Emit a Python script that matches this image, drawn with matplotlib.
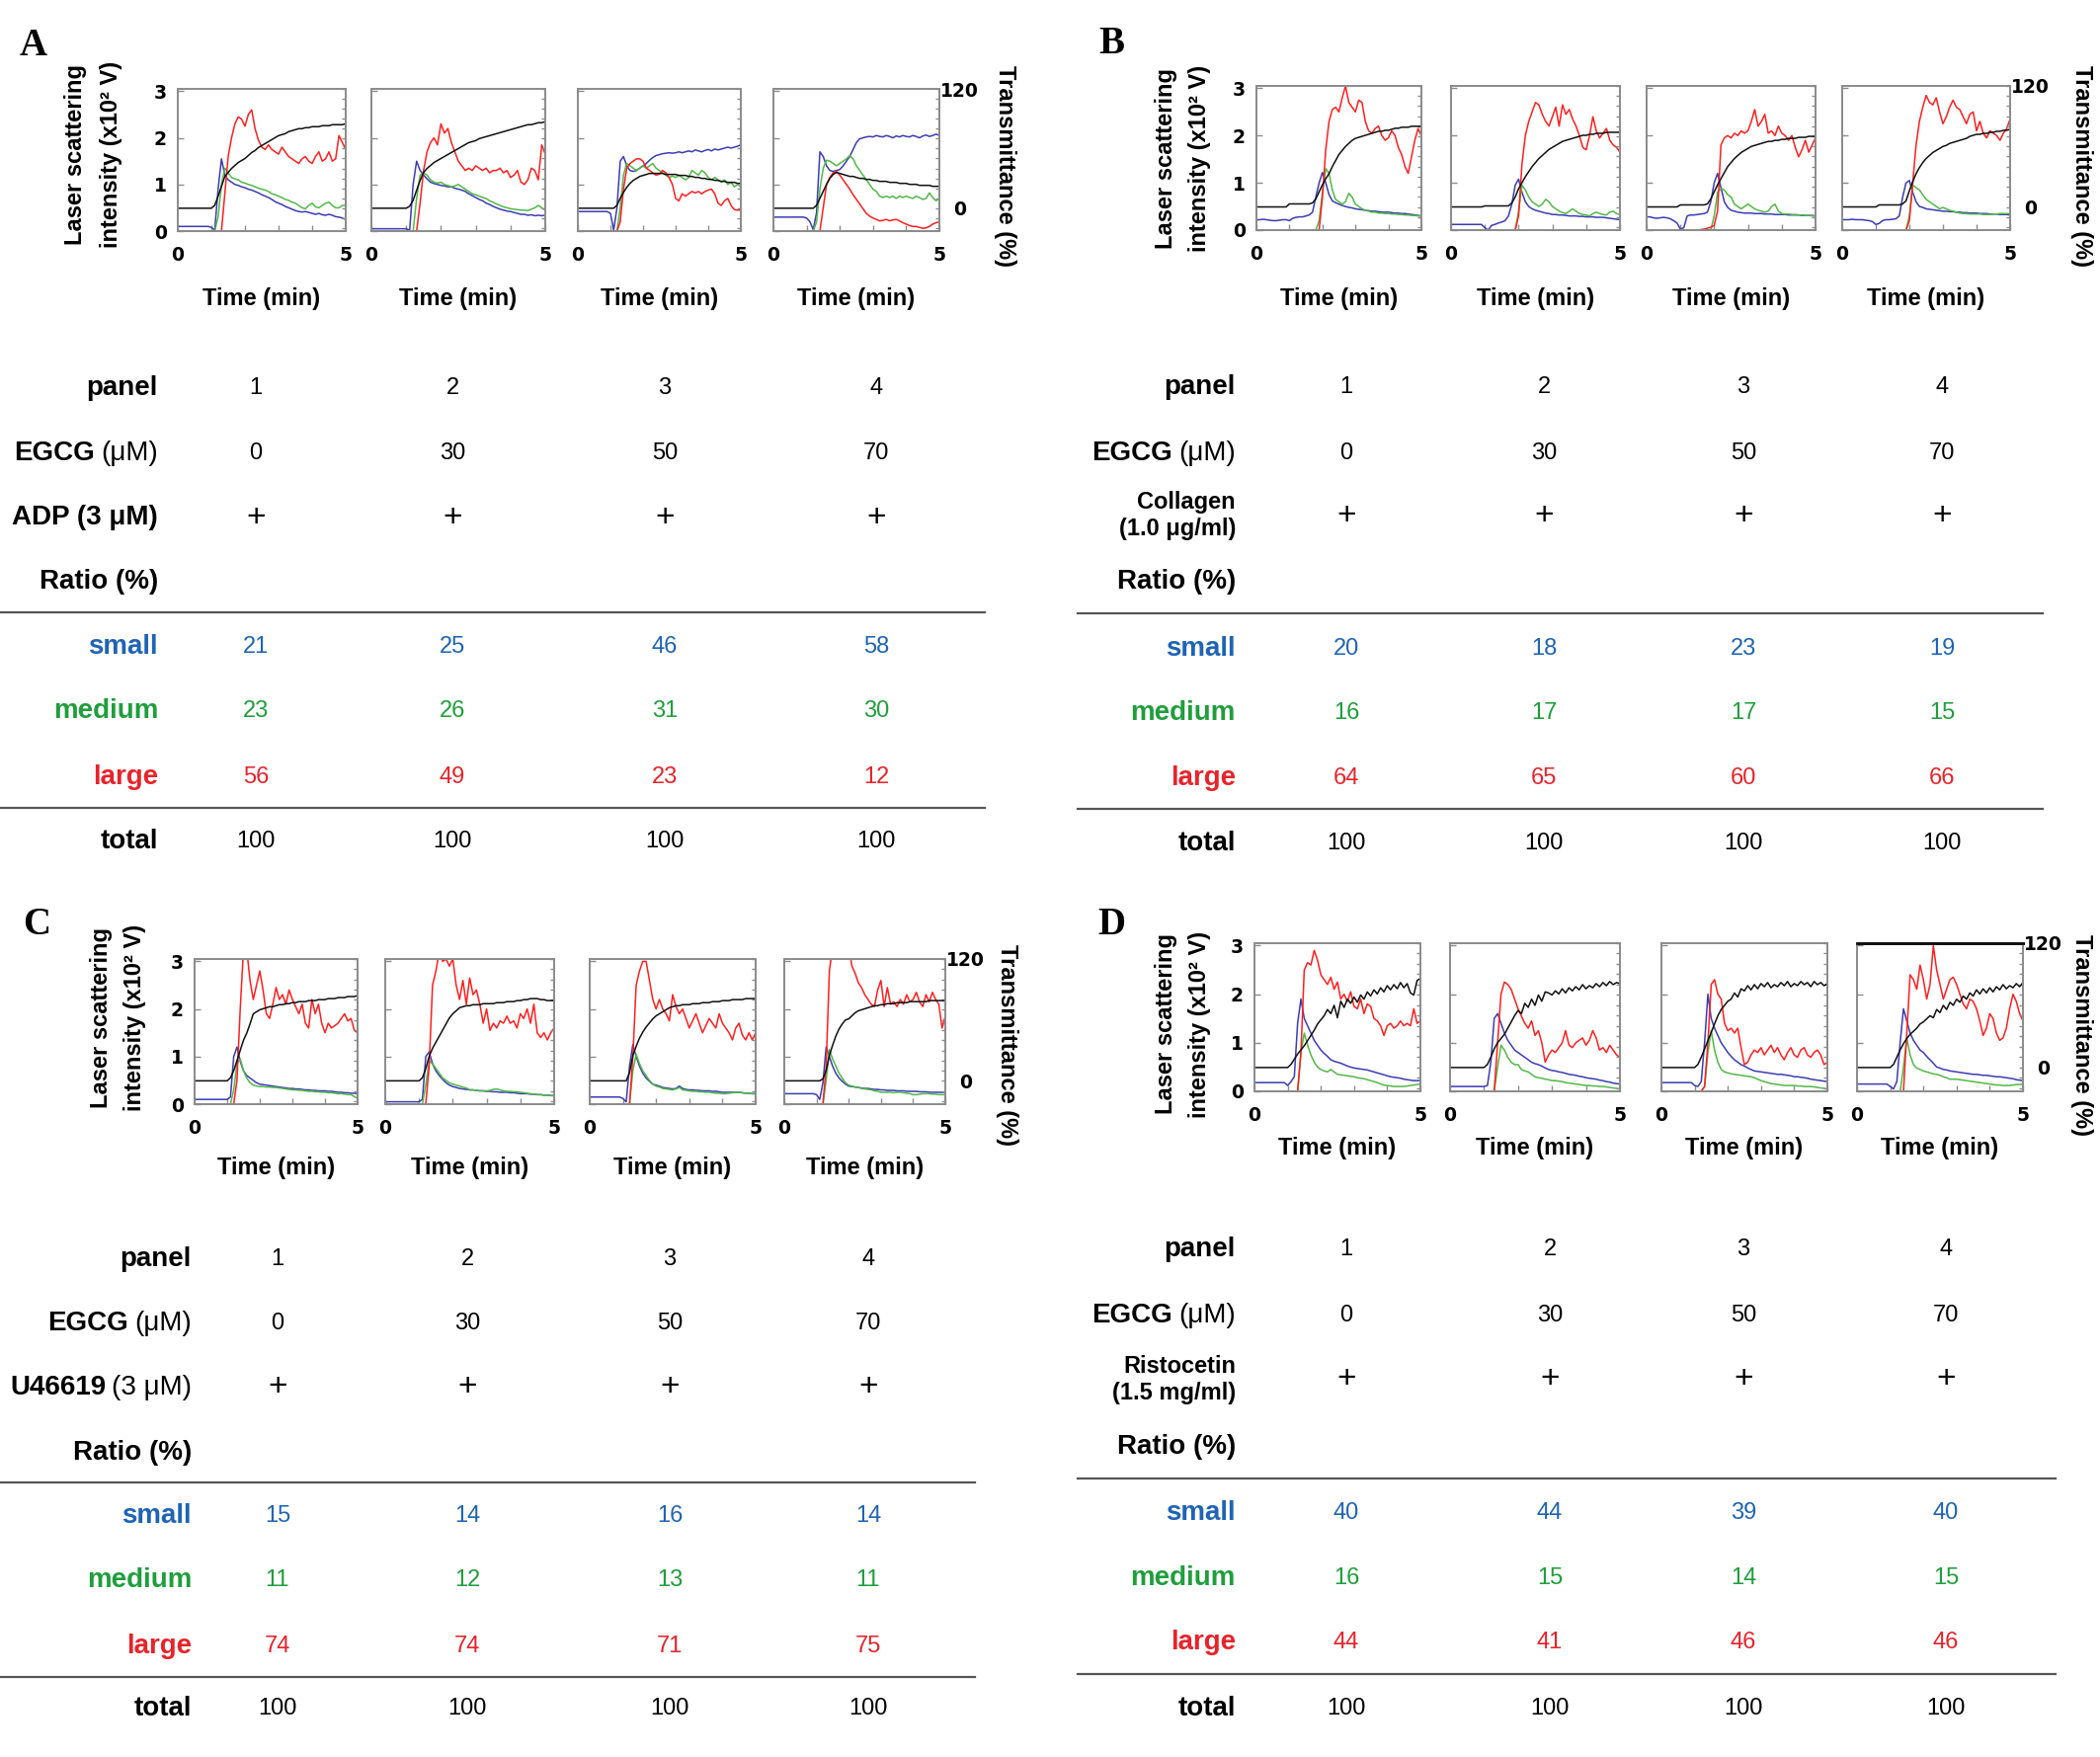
import matplotlib
matplotlib.use("Agg")
import matplotlib.pyplot as plt
from matplotlib.lines import Line2D

plt.rcParams['font.family'] = ['Liberation Sans', 'DejaVu Sans']

# ---------------- data ----------------
TIME = [0.0, 0.1, 0.2, 0.3, 0.4, 0.5, 0.6, 0.7, 0.8, 0.9,
        1.0, 1.1, 1.2, 1.3, 1.4, 1.5, 1.6, 1.7, 1.8, 1.9,
        2.0, 2.1, 2.2, 2.3, 2.4, 2.5, 2.6, 2.7, 2.8, 2.9,
        3.0, 3.1, 3.2, 3.3, 3.4, 3.5, 3.6, 3.7, 3.8, 3.9,
        4.0, 4.1, 4.2, 4.3, 4.4, 4.5, 4.6, 4.7, 4.8, 4.9,
        5.0]

# Laser scattering intensity (x10^2 V): blue=small, green=medium, red=large; black = transmittance (%)
A1_blue = [.10,.10,.10,.10,.10,.10,.10,.10,.10,.10, .08,.02,.90,1.55,1.20,1.10,1.05,1.00,.98,.95,
           .93,.90,.88,.85,.82,.78,.75,.72,.68,.63, .60,.57,.53,.50,.47,.44,.42,.41,.42,.40,
           .38,.36,.38,.35,.34,.36,.34,.31,.30,.28, .25]
A1_green = [0,0,0,0,0,0,0,0,0,0, 0,0,.30,1.00,1.35,1.25,1.15,1.12,1.10,1.05,
            1.03,1.00,.98,.95,.92,.90,.88,.85,.80,.78, .75,.72,.68,.66,.62,.60,.55,.50,.48,.55,
            .60,.52,.50,.55,.60,.62,.55,.50,.50,.55, .55]
A1_red = [0,0,0,0,0,0,0,0,0,0, 0,0,0,0,.80,1.60,2.00,2.30,2.45,2.40,
          2.25,2.50,2.60,2.20,1.95,1.80,1.75,1.85,1.75,1.70, 1.65,1.80,1.70,1.60,1.55,1.50,1.45,1.55,1.60,1.50,
          1.45,1.60,1.70,1.50,1.55,1.70,1.50,1.55,2.05,1.90, 1.75]
A1_black = [0,0,0,0,0,0,0,0,0,0, 0,3,12,22,32,36,40,43,46,48,
            50,53,56,58,61,63,65,67,69,71, 73,74,75,77,78,79,80,80,81,81,
            82,82,82,83,83,83,84,84,84,84, 85]

A2_blue = [.05,.05,.05,.05,.05,.05,.05,.05,.05,.05, .05,.02,1.00,1.50,1.30,1.20,1.12,1.05,1.02,1.00,
           .98,.97,.95,.95,.92,.90,.88,.85,.80,.76, .72,.68,.65,.60,.57,.53,.50,.47,.45,.43,
           .42,.40,.38,.36,.36,.34,.35,.33,.34,.33, .34]
A2_green = [0,0,0,0,0,0,0,0,0,0, 0,0,0,.70,1.20,1.25,1.20,1.10,1.05,1.03,
            1.05,1.00,.98,.95,.97,1.00,.95,.90,.85,.80, .78,.75,.72,.70,.65,.62,.58,.55,.52,.50,
            .48,.47,.46,.45,.45,.44,.47,.50,.55,.50, .45]
A2_red = [0,0,0,0,0,0,0,0,0,0, 0,0,0,0,.60,1.30,1.70,1.90,2.00,1.85,
          2.30,2.10,2.20,1.90,1.70,1.50,1.40,1.30,1.35,1.30, 1.40,1.35,1.30,1.35,1.25,1.30,1.30,1.35,1.25,1.30,
          1.15,1.20,1.30,1.05,1.00,1.10,1.35,1.30,1.10,1.85, 1.65]
A2_black = [0,0,0,0,0,0,0,0,0,0, 0,2,8,18,28,36,40,43,46,48,
            50,52,54,56,58,60,62,64,66,67, 68,70,71,72,73,74,75,76,77,78,
            79,80,81,82,83,84,84,85,86,86, 87]

A3_blue = [.42,.42,.42,.42,.42,.42,.42,.42,.42,.42, .38,.02,.50,1.50,1.60,1.40,1.30,1.28,1.30,1.35,
           1.40,1.45,1.52,1.58,1.62,1.64,1.66,1.67,1.68,1.67, 1.68,1.70,1.68,1.70,1.72,1.70,1.74,1.72,1.70,1.73,
           1.75,1.72,1.76,1.74,1.76,1.78,1.80,1.78,1.80,1.82, 1.85]
A3_green = [0,0,0,0,0,0,0,0,0,0, 0,0,0,.50,1.20,1.45,1.40,1.35,1.30,1.35,
            1.40,1.35,1.40,1.45,1.35,1.30,1.25,1.20,1.15,1.18, 1.15,1.20,1.15,1.10,1.15,1.30,1.25,1.20,1.30,1.25,
            1.15,1.10,1.15,1.10,1.05,1.10,1.00,1.05,.95,1.00, .95]
A3_red = [0,0,0,0,0,0,0,0,0,0, 0,0,0,.20,.90,1.35,1.45,1.50,1.55,1.55,
          1.50,1.35,1.30,1.25,1.20,1.22,1.30,1.25,1.15,1.00, .70,.65,.80,.75,.80,.85,.82,.85,.80,.85,
          .88,.90,.80,.60,.55,.65,.70,.55,.46,.45, .45]
A3_black = [0,0,0,0,0,0,0,0,0,0, 0,0,3,10,16,21,25,28,30,32,
            33,34,35,35,35,35,35,34,34,34, 34,33,33,33,32,32,31,31,30,30,
            29,29,28,28,27,27,26,26,26,25, 25]

A4_blue = [.30,.30,.30,.30,.30,.30,.30,.30,.30,.30, .28,.20,.03,.40,1.70,1.60,1.40,1.30,1.28,1.30,
           1.32,1.40,1.50,1.60,1.75,1.90,1.98,2.00,2.02,2.03, 2.02,2.05,2.03,2.02,2.05,2.03,2.00,2.04,2.02,2.05,
           2.03,2.02,2.05,2.03,2.00,2.04,2.06,2.03,2.05,2.08, 2.05]
A4_green = [0,0,0,0,0,0,0,0,0,0, 0,0,0,.20,.90,1.35,1.52,1.50,1.45,1.40,
            1.45,1.50,1.55,1.62,1.55,1.40,1.30,1.20,1.10,1.00, .90,.85,.75,.72,.75,.72,.75,.70,.75,.72,
            .75,.72,.70,.75,.72,.68,.70,.82,.72,.65, .70]
A4_red = [0,0,0,0,0,0,0,0,0,0, 0,0,0,0,0,.50,1.00,1.15,1.25,1.28,
          1.20,1.10,1.00,.90,.78,.68,.58,.48,.38,.32, .28,.25,.22,.23,.25,.22,.24,.25,.22,.18,
          .15,.12,.10,.10,.08,.06,.07,.10,.15,.18, .20]
A4_black = [0,0,0,0,0,0,0,0,0,0, 0,0,0,3,10,17,24,30,34,36,
            35,34,33,32,32,31,30,30,29,29, 28,28,27,27,27,26,26,26,25,25,
            25,24,24,24,23,23,23,23,22,22, 22]

B1_blue = [.22,.22,.23,.22,.21,.20,.20,.21,.22,.22, .20,.25,.27,.28,.28,.30,.32,.38,.70,1.00,
           1.22,1.00,.75,.62,.58,.55,.52,.50,.48,.47, .45,.44,.43,.42,.41,.40,.40,.39,.38,.38,
           .38,.37,.36,.36,.35,.35,.34,.33,.32,.31, .30]
B1_green = [0,0,0,0,0,0,0,0,0,0, 0,0,0,0,0,0,0,0,0,.20,
            .80,1.30,1.20,.85,.65,.60,.55,.60,.78,.70, .55,.50,.45,.42,.40,.38,.38,.36,.36,.35,
            .35,.34,.34,.33,.33,.32,.32,.31,.31,.30, .30]
B1_red = [0,0,0,0,0,0,0,0,0,0, 0,0,0,0,0,0,0,0,0,0,
          .70,1.70,2.30,2.55,2.60,2.50,2.80,3.05,2.70,2.60, 2.50,2.75,2.70,2.30,2.10,2.05,2.15,2.20,2.00,1.90,
          1.95,2.10,2.00,1.75,1.60,1.35,1.20,1.55,1.90,2.15, 2.00]
B1_black = [0,0,0,0,0,0,0,0,0,0, 3,3,3,3,3,3,3,4,8,15,
            22,28,33,40,46,52,56,60,63,66, 68,69,70,71,72,73,74,75,75,76,
            76,77,78,78,79,79,79,80,80,80, 80]

B2_blue = [.12,.12,.12,.12,.12,.12,.12,.12,.12,.12, .05,.00,.10,.12,.15,.17,.20,.30,.55,.95,
           1.08,.80,.60,.50,.45,.42,.40,.38,.36,.35, .33,.33,.32,.32,.31,.30,.30,.30,.29,.29,
           .28,.28,.28,.27,.27,.27,.26,.25,.24,.23, .22]
B2_green = [0,0,0,0,0,0,0,0,0,0, 0,0,0,0,0,0,0,0,0,0,
            .40,.95,.85,.70,.60,.55,.50,.55,.65,.60, .50,.45,.40,.37,.35,.40,.45,.40,.35,.33,
            .32,.30,.35,.38,.35,.33,.32,.38,.40,.35, .33]
B2_red = [0,0,0,0,0,0,0,0,0,0, 0,0,0,0,0,0,0,0,0,0,
          .30,1.40,2.00,2.30,2.50,2.70,2.65,2.45,2.30,2.20, 2.40,2.60,2.20,2.65,2.45,2.55,2.35,2.20,2.00,1.75,
          1.70,2.00,2.40,2.10,1.95,2.05,2.15,1.90,1.80,1.75, 1.65]
B2_black = [0,0,0,0,0,0,0,0,0,0, 1,1,1,1,1,1,1,1,4,10,
            18,24,30,35,40,44,48,51,54,57, 59,61,63,65,66,67,68,69,70,71,
            71,72,72,73,73,73,74,74,74,74, 74]

B3_blue = [.28,.28,.26,.25,.26,.27,.26,.24,.20,.15, .02,.05,.30,.32,.32,.33,.34,.35,.38,.60,
           1.00,1.20,.90,.60,.48,.42,.40,.38,.37,.36, .36,.36,.35,.35,.35,.34,.34,.34,.33,.33,
           .33,.33,.32,.32,.32,.32,.31,.31,.31,.31, .30]
B3_green = [0,0,0,0,0,0,0,0,0,0, 0,0,0,0,0,0,0,0,0,0,
            .30,.80,.88,.85,.75,.70,.55,.50,.45,.50, .55,.50,.45,.42,.40,.38,.40,.50,.55,.40,
            .35,.34,.34,.33,.33,.32,.32,.31,.31,.30, .30]
B3_red = [0,0,0,0,0,0,0,0,0,0, 0,0,0,0,0,0,.01,.02,.04,.06,
          .10,.40,1.80,1.95,2.00,1.95,2.05,2.00,2.10,2.05, 2.10,2.30,2.55,2.20,2.30,2.45,2.05,2.10,2.00,2.20,
          2.05,2.00,1.90,2.00,1.75,1.55,1.70,1.90,1.65,1.80, 1.95]
B3_black = [0,0,0,0,0,0,0,0,0,0, 2,2,2,2,2,2,2,2,3,8,
            15,22,28,34,40,44,48,51,54,56, 58,60,61,62,63,64,65,65,66,66,
            67,67,68,68,68,69,69,69,70,70, 70]

B4_blue = [.22,.22,.22,.23,.22,.22,.22,.21,.20,.18, .12,.14,.20,.22,.22,.23,.24,.30,.70,1.00,
           1.05,.80,.60,.50,.48,.45,.44,.43,.42,.41, .40,.40,.39,.39,.38,.38,.37,.37,.36,.36,
           .36,.35,.35,.35,.34,.34,.34,.33,.33,.33, .32]
B4_green = [0,0,0,0,0,0,0,0,0,0, 0,0,0,0,0,0,0,0,0,0,
            .30,.95,.90,.85,.75,.65,.60,.55,.50,.45, .48,.45,.42,.40,.38,.36,.35,.35,.34,.34,
            .34,.34,.33,.33,.33,.34,.34,.35,.35,.35, .35]
B4_red = [0,0,0,0,0,0,0,0,0,0, 0,0,0,0,0,0,0,0,0,0,
          .20,1.00,1.80,2.30,2.60,2.85,2.70,2.65,2.80,2.50, 2.25,2.40,2.60,2.75,2.60,2.55,2.40,2.25,2.45,2.50,
          2.10,2.30,2.05,1.95,2.10,2.05,2.00,1.90,2.05,2.15, 2.35]
B4_black = [0,0,0,0,0,0,0,0,0,0, 0,2,2,2,2,2,2,2,3,6,
            16,25,33,39,44,48,51,54,56,58, 60,61,63,64,65,66,67,68,70,71,
            72,72,73,73,74,74,75,75,76,76, 77]

C1_blue = [.10,.10,.10,.10,.10,.10,.10,.10,.10,.10, .10,.15,1.00,1.20,.90,.70,.60,.55,.50,.45,
           .42,.41,.40,.39,.38,.37,.36,.35,.34,.33, .33,.32,.32,.31,.30,.30,.29,.29,.28,.28,
           .28,.27,.27,.26,.25,.25,.24,.24,.23,.23, .22]
C1_green = [0,0,0,0,0,0,0,0,0,0, 0,0,.30,.85,.95,.70,.55,.45,.40,.38,
            .37,.37,.36,.36,.35,.35,.34,.33,.32,.31, .30,.30,.29,.29,.28,.27,.27,.26,.26,.25,
            .25,.24,.24,.23,.22,.22,.21,.20,.20,.16, .12]
C1_red = [0,0,0,0,0,0,0,0,0,0, 0,0,0,.50,2.00,3.25,3.25,2.60,2.20,2.50,
          2.80,2.40,1.90,1.80,2.10,2.45,2.20,2.30,2.10,2.40, 2.20,2.05,1.90,2.10,1.70,1.60,2.20,1.90,2.10,1.70,
          1.50,1.70,1.60,1.65,1.70,1.80,1.90,1.75,1.80,1.55, 1.50]
C1_black = [0,0,0,0,0,0,0,0,0,0, 0,3,10,20,30,40,47,56,66,68,
            70,71,72,73,73,74,75,75,76,76, 77,77,78,78,78,79,79,79,80,80,
            80,81,81,81,82,82,82,83,83,83, 84]

C2_blue = [.05,.05,.05,.05,.05,.05,.05,.05,.05,.05, .05,.10,1.00,1.10,.85,.70,.60,.52,.45,.40,
           .37,.35,.33,.32,.31,.30,.30,.29,.28,.28, .27,.27,.26,.26,.25,.25,.25,.24,.24,.23,
           .22,.22,.22,.21,.21,.20,.20,.19,.19,.18, .18]
C2_green = [0,0,0,0,0,0,0,0,0,0, 0,0,.40,.90,.85,.75,.65,.55,.50,.45,
            .42,.40,.38,.36,.34,.30,.30,.29,.28,.28, .28,.29,.31,.32,.30,.28,.27,.27,.26,.26,
            .25,.24,.23,.22,.21,.20,.20,.19,.19,.18, .18]
C2_red = [0,0,0,0,0,0,0,0,0,0, 0,0,0,.80,2.50,2.80,3.20,3.00,3.05,2.90,
          3.05,2.50,2.20,2.60,2.10,2.65,2.30,2.40,2.10,1.70, 2.00,1.55,1.70,1.60,1.75,1.70,1.85,1.70,1.75,1.60,
          1.90,1.80,2.00,1.70,2.10,1.50,1.40,1.50,1.35,1.50, 1.60]
C2_black = [0,0,0,0,0,0,0,0,0,0, 0,3,12,24,32,38,44,50,56,62,
            66,69,72,73,74,74,75,75,75,76, 76,76,76,77,77,77,78,78,78,79,
            79,80,80,81,81,81,80,80,79,79, 79]

C3_blue = [.15,.15,.15,.15,.15,.15,.15,.15,.15,.15, .12,.05,.80,1.25,1.00,.80,.65,.55,.48,.42,
           .40,.38,.35,.34,.33,.32,.33,.38,.33,.31, .30,.30,.29,.29,.28,.28,.28,.27,.27,.26,
           .25,.25,.25,.25,.25,.25,.24,.23,.23,.22, .22]
C3_green = [0,0,0,0,0,0,0,0,0,0, 0,0,0,.70,1.05,.85,.70,.60,.50,.42,
            .38,.36,.33,.32,.31,.30,.32,.35,.30,.29, .28,.27,.27,.26,.26,.25,.25,.24,.23,.23,
            .22,.22,.23,.24,.25,.25,.24,.23,.23,.22, .22]
C3_red = [0,0,0,0,0,0,0,0,0,0, 0,0,0,1.00,2.50,2.80,3.00,3.00,2.60,2.20,
          2.00,2.20,2.00,1.90,1.75,2.30,2.05,1.90,2.00,1.80, 1.60,1.75,1.90,1.70,1.50,1.65,1.80,1.70,1.60,1.90,
          1.70,1.60,1.50,1.35,1.60,1.70,1.45,1.35,1.50,1.35, 1.50]
C3_black = [0,0,0,0,0,0,0,0,0,0, 0,0,8,25,34,42,48,53,57,61,
            64,66,68,70,72,73,74,74,75,75, 75,76,76,76,77,77,77,78,78,78,
            79,79,79,80,80,80,80,81,81,81, 81]

C4_blue = [.22,.22,.22,.22,.22,.22,.22,.22,.22,.22, .20,.10,.45,1.20,1.00,.80,.65,.55,.48,.42,
           .38,.37,.36,.35,.34,.33,.33,.32,.31,.31, .30,.30,.29,.29,.29,.28,.28,.28,.27,.27,
           .27,.27,.26,.26,.26,.25,.25,.25,.25,.25, .25]
C4_green = [0,0,0,0,0,0,0,0,0,0, 0,0,0,.50,1.15,.95,.80,.65,.55,.45,
            .40,.38,.36,.35,.33,.32,.31,.30,.28,.27, .25,.25,.25,.25,.24,.25,.25,.24,.23,.22,
            .20,.20,.21,.22,.22,.22,.21,.21,.20,.20, .20]
C4_red = [0,0,0,0,0,0,0,0,0,0, 0,0,0,.80,2.80,3.30,3.30,3.30,3.30,3.30,
          3.30,2.90,2.75,2.55,2.45,2.30,2.20,2.10,2.05,2.40, 2.60,2.05,2.45,2.10,2.15,2.05,2.20,2.10,2.30,2.15,
          2.20,2.35,2.15,2.05,2.30,2.15,2.35,2.20,2.10,1.60, 1.85]
C4_black = [0,0,0,0,0,0,0,0,0,0, 0,0,2,10,25,35,44,51,56,60,
            61,64,67,69,70,71,72,73,74,74, 75,75,76,76,76,77,77,77,77,78,
            78,78,78,78,78,79,79,79,79,79, 79]

D1_blue = [.18,.18,.18,.18,.18,.18,.18,.18,.18,.18, .12,.20,.30,1.40,1.90,1.50,1.35,1.20,1.05,.95,
           .85,.78,.72,.65,.62,.60,.58,.55,.52,.50, .48,.47,.46,.45,.44,.42,.40,.38,.36,.34,
           .32,.30,.29,.28,.27,.25,.24,.23,.22,.22, .22]
D1_green = [0,0,0,0,0,0,0,0,0,0, 0,0,0,0,.80,1.20,.95,.75,.60,.50,
            .45,.42,.40,.45,.40,.35,.34,.33,.32,.31, .30,.28,.27,.26,.24,.22,.20,.18,.15,.13,
            .12,.11,.10,.10,.10,.10,.11,.12,.13,.14, .15]
D1_red = [0,0,0,0,0,0,0,0,0,0, 0,0,0,0,.80,2.50,2.65,2.60,2.90,2.70,
          2.40,2.30,2.20,2.35,2.10,2.25,1.90,2.00,1.85,2.05, 1.75,1.70,1.90,1.60,1.80,1.75,1.50,1.45,1.35,1.15,
          1.35,1.40,1.30,1.35,1.45,1.35,1.40,1.35,1.70,1.40, 1.45]
D1_black = [0,0,0,0,0,0,0,0,0,0, 0,3,8,13,17,21,26,31,36,42,
            46,50,56,52,60,48,64,58,66,62, 68,63,70,66,73,69,75,71,77,73,
            79,75,80,76,82,77,81,72,70,84, 86]

D2_blue = [.10,.10,.10,.10,.10,.10,.10,.10,.10,.10, .10,.12,.60,1.50,1.60,1.40,1.20,1.05,.95,.85,
           .80,.75,.70,.65,.60,.57,.55,.52,.48,.45, .43,.42,.40,.39,.37,.35,.34,.33,.31,.30,
           .28,.27,.26,.25,.23,.22,.20,.19,.17,.16, .15]
D2_green = [0,0,0,0,0,0,0,0,0,0, 0,0,0,0,.50,.95,.85,.70,.60,.55,
            .55,.45,.42,.40,.35,.30,.28,.27,.25,.24, .22,.22,.21,.20,.18,.17,.16,.15,.14,.13,
            .12,.12,.11,.11,.10,.10,.09,.08,.07,.06, .05]
D2_red = [0,0,0,0,0,0,0,0,0,0, 0,0,0,0,1.00,2.00,2.25,2.20,2.10,1.90,
          1.70,1.55,1.40,1.30,1.45,1.15,1.25,1.00,.60,.75, .85,.80,.90,1.00,1.25,.95,.90,1.00,1.05,1.10,
          .95,1.05,1.25,1.10,.85,.90,.80,.95,.85,.75, .70]
D2_black = [0,0,0,0,0,0,0,0,0,0, 0,3,10,18,24,28,32,38,44,50,
            55,52,62,58,66,60,70,64,73,72, 70,74,71,76,72,77,74,78,75,80,
            76,79,77,81,78,82,79,83,80,82, 81]

D3_blue = [.18,.18,.18,.18,.18,.18,.18,.18,.18,.18, .12,.10,.20,1.00,2.00,1.50,1.30,1.15,1.00,.90,
           .80,.72,.65,.60,.55,.52,.48,.45,.42,.41, .40,.39,.38,.37,.36,.35,.35,.34,.33,.32,
           .30,.30,.29,.28,.27,.25,.24,.23,.22,.21, .20]
D3_green = [0,0,0,0,0,0,0,0,0,0, 0,0,0,.10,.80,1.25,.85,.60,.45,.40,
            .38,.36,.35,.34,.33,.32,.31,.30,.28,.25, .22,.20,.18,.16,.15,.14,.13,.12,.12,.12,
            .12,.11,.11,.10,.10,.10,.09,.08,.07,.06, .05]
D3_red = [0,0,0,0,0,0,0,0,0,0, 0,0,0,.10,1.00,2.20,2.30,2.00,1.90,1.40,
          1.25,1.30,1.20,1.30,.90,.55,.60,.75,.85,.80, .90,.75,.85,.95,.80,.90,.75,.65,.80,.90,
          .75,.70,.85,.90,.75,.70,.80,.85,.75,.55, .60]
D3_black = [0,0,0,0,0,0,0,0,0,0, 0,3,10,18,26,34,42,50,56,60,
            64,66,72,68,76,74,79,75,80,76, 81,78,82,77,80,78,82,79,83,78,
            81,79,83,80,82,78,83,80,82,79, 81]

D4_blue = [.15,.15,.15,.15,.15,.15,.15,.15,.15,.15, .10,.05,.20,1.00,1.70,1.45,1.20,1.05,.95,.85,
           .80,.72,.65,.58,.50,.48,.45,.44,.42,.41, .40,.39,.38,.37,.36,.35,.35,.34,.33,.33,
           .32,.31,.30,.30,.29,.28,.27,.26,.24,.23, .22]
D4_green = [0,0,0,0,0,0,0,0,0,0, 0,0,0,0,.50,1.10,.75,.55,.48,.45,
            .42,.40,.38,.36,.35,.33,.30,.28,.25,.25, .25,.24,.23,.22,.21,.20,.19,.18,.17,.16,
            .15,.14,.13,.13,.12,.12,.12,.13,.14,.14, .15]
D4_red = [0,0,0,0,0,0,0,0,0,0, 0,0,0,0,0,1.20,2.40,2.30,2.10,2.60,
          2.30,1.90,2.20,3.00,2.50,2.20,1.90,2.10,2.30,2.35, 2.20,2.00,1.80,1.70,1.90,1.85,1.70,1.45,1.15,1.30,
          1.60,1.50,1.20,1.05,1.10,1.30,1.70,2.00,1.85,1.60, 1.45]
D4_black = [0,0,0,0,0,0,0,0,0,0, 0,3,10,17,23,28,32,35,38,42,
            44,47,50,48,56,53,60,56,63,60, 66,63,69,66,72,69,75,71,76,72,
            77,73,78,75,80,76,79,77,81,78, 82]

# table data
PANEL_NUMS = [1, 2, 3, 4]
EGCG = [0, 30, 50, 70]
TOTAL = [100, 100, 100, 100]
A_small = [21, 25, 46, 58]; A_medium = [23, 26, 31, 30]; A_large = [56, 49, 23, 12]
B_small = [20, 18, 23, 19]; B_medium = [16, 17, 17, 15]; B_large = [64, 65, 60, 66]
C_small = [15, 14, 16, 14]; C_medium = [11, 12, 13, 11]; C_large = [74, 74, 71, 75]
D_small = [40, 44, 39, 40]; D_medium = [16, 15, 14, 15]; D_large = [44, 41, 46, 46]
# agonist labels: (bold part, regular part) or two-line bold label
AGONISTS = [('ADP (3 \u03bcM)', ''), ('Collagen\n(1.0 \u03bcg/ml)', ''),
            ('U46619', '(3 \u03bcM)'), ('Ristocetin\n(1.5 mg/ml)', '')]

# ---------------- figure ----------------
W, H = 2126, 1779
fig = plt.figure(figsize=(W / 100, H / 100), dpi=100)
fig.patch.set_facecolor('white')
RENDERER = fig.canvas.get_renderer()

C_BLUE = '#3c3cb4'
C_GREEN = '#52b848'
C_RED = '#ff1f1f'
C_BLACK = '#101010'
FRAME = '#8c8c8c'
T_BLUE = '#1f64b4'
T_GREEN = '#1f9e3c'
T_RED = '#e8232a'
TICK_FONT = dict(fontweight='bold', fontfamily='DejaVu Sans', fontsize=13.5)


def fx(x):
    return x / W


def fy(y):
    return 1 - y / H


def draw_panel(x0, x1, yt, yb, blue, green, red, black, first, last, dark_top=False):
    ax = fig.add_axes([fx(x0), fy(yb), (x1 - x0) / W, (yb - yt) / H])
    ax.plot(TIME, blue, color=C_BLUE, lw=1.1)
    ax.plot(TIME, green, color=C_GREEN, lw=1.1)
    ax.plot(TIME, red, color=C_RED, lw=1.1)
    ax.set_xlim(0, 5)
    ax.set_ylim(0, 3.05)
    ax2 = ax.twinx()
    ax2.plot(TIME, black, color=C_BLACK, lw=1.1)
    ax2.set_ylim(-23, 120)
    for a in (ax, ax2):
        for s in a.spines.values():
            s.set_color(FRAME)
            s.set_linewidth(1.3)
    if dark_top:
        for a in (ax, ax2):
            a.spines['top'].set_color('#111111')
            a.spines['top'].set_linewidth(2.0)
    ax.set_xticks([0, 1, 2, 3, 4, 5])
    ax.set_xticklabels(['0', '', '', '', '', '5'], **TICK_FONT)
    ax.set_yticks([0, 1, 2, 3])
    if first:
        ax.set_yticklabels(['0', '1', '2', '3'], **TICK_FONT)
    else:
        ax.set_yticklabels([])
    ax.tick_params(axis='x', direction='in', length=4, width=1, color=FRAME, pad=11)
    ax.tick_params(axis='y', direction='in', length=4, width=1, color=FRAME, pad=8)
    ax2.set_yticks([0, 120])
    ax2.set_yticks(list(range(-20, 121, 10)), minor=True)
    if last:
        ax2.set_yticklabels(['0', '120'], **TICK_FONT)
    else:
        ax2.set_yticklabels([])
    ax2.tick_params(axis='y', which='both', direction='in', length=3, width=1, color=FRAME, pad=15)
    for lbl in ax2.get_yticklabels():
        lbl.set_horizontalalignment('center')
    return ax


def draw_quadrant(letter, lx, ly, panels, yt, yb, traces, ylab_x, ylab_y, time_y, trans_x, trans_y,
                  dark_last_top=False):
    fig.text(fx(lx), fy(ly), letter, fontsize=28, fontweight='bold', family='Liberation Serif',
             ha='center', va='center')
    for i, ((x0, x1), tr) in enumerate(zip(panels, traces)):
        draw_panel(x0, x1, yt, yb, tr[0], tr[1], tr[2], tr[3], i == 0, i == 3,
                   dark_top=(dark_last_top and i == 3))
        fig.text(fx((x0 + x1) / 2), fy(time_y), 'Time (min)', fontsize=17, fontweight='bold',
                 ha='center', va='center')
    fig.text(fx(ylab_x[0]), fy(ylab_y), 'Laser scattering', rotation=90, fontsize=17,
             fontweight='bold', ha='center', va='center')
    fig.text(fx(ylab_x[1]), fy(ylab_y), 'intensity (x10\u00b2 V)', rotation=90, fontsize=17,
             fontweight='bold', ha='center', va='center')
    fig.text(fx(trans_x), fy(trans_y), 'Transmittance (%)', rotation=-90, fontsize=17,
             fontweight='bold', ha='center', va='center')


def mixed_label(xr, y, bold_part, reg_part, fs):
    if reg_part:
        t = fig.text(fx(xr), fy(y), reg_part, fontsize=fs, ha='right', va='center')
        w = t.get_window_extent(RENDERER).width
        xr = xr - w - 6
    two = '\n' in bold_part
    fig.text(fx(xr), fy(y), bold_part, fontsize=17 if two else fs, fontweight='bold',
             ha='right', va='center', multialignment='right', linespacing=1.25)


def draw_table(label_r, cols, rows, lines_y, line_x, agonist, small, medium, large):
    LFS = 20
    VFS = 17
    mixed_label(label_r, rows[0], 'panel', '', LFS)
    mixed_label(label_r, rows[1], 'EGCG', '(\u03bcM)', LFS)
    mixed_label(label_r, rows[2], agonist[0], agonist[1], LFS)
    mixed_label(label_r, rows[3], 'Ratio (%)', '', LFS)
    for name, col, y in zip(['small', 'medium', 'large', 'total'],
                            [T_BLUE, T_GREEN, T_RED, 'black'], rows[4:]):
        fig.text(fx(label_r), fy(y), name, fontsize=LFS, fontweight='bold', color=col,
                 ha='right', va='center')
    for j, cx in enumerate(cols):
        fig.text(fx(cx), fy(rows[0]), str(PANEL_NUMS[j]), fontsize=VFS, ha='center', va='center')
        fig.text(fx(cx), fy(rows[1]), str(EGCG[j]), fontsize=VFS, ha='center', va='center')
        fig.text(fx(cx), fy(rows[2]), '+', fontsize=24, ha='center', va='center')
        fig.text(fx(cx), fy(rows[4]), str(small[j]), fontsize=VFS, color=T_BLUE, ha='center', va='center')
        fig.text(fx(cx), fy(rows[5]), str(medium[j]), fontsize=VFS, color=T_GREEN, ha='center', va='center')
        fig.text(fx(cx), fy(rows[6]), str(large[j]), fontsize=VFS, color=T_RED, ha='center', va='center')
        fig.text(fx(cx), fy(rows[7]), str(TOTAL[j]), fontsize=VFS, ha='center', va='center')
    for ly in lines_y:
        fig.add_artist(Line2D([fx(line_x[0]), fx(line_x[1])], [fy(ly), fy(ly)],
                              transform=fig.transFigure, color='#555555', lw=1.6))


# ---- A ----
draw_quadrant('A', 34, 47, [(180, 350), (376, 552), (585, 750), (783, 951)], 90, 234,
              [(A1_blue, A1_green, A1_red, A1_black), (A2_blue, A2_green, A2_red, A2_black),
               (A3_blue, A3_green, A3_red, A3_black), (A4_blue, A4_green, A4_red, A4_black)],
              (77, 113), 156, 303, 1017, 168)
draw_table(160, [259, 458, 673, 887], [393, 459, 524, 589, 655, 720, 787, 852], [620, 818], (0, 997),
           AGONISTS[0], A_small, A_medium, A_large)

# ---- B ----
draw_quadrant('B', 1125, 45, [(1272, 1439), (1469, 1640), (1667, 1838), (1865, 2035)], 87, 233,
              [(B1_blue, B1_green, B1_red, B1_black), (B2_blue, B2_green, B2_red, B2_black),
               (B3_blue, B3_green, B3_red, B3_black), (B4_blue, B4_green, B4_red, B4_black)],
              (1180, 1215), 160, 302, 2107, 168)
draw_table(1251, [1363, 1563, 1765, 1966], [392, 459, 522, 589, 657, 722, 788, 854], [621, 819], (1091, 2068),
           AGONISTS[1], B_small, B_medium, B_large)

# ---- C ----
draw_quadrant('C', 37, 936, [(197, 362), (390, 561), (597, 765), (794, 957)], 971, 1118,
              [(C1_blue, C1_green, C1_red, C1_black), (C2_blue, C2_green, C2_red, C2_black),
               (C3_blue, C3_green, C3_red, C3_black), (C4_blue, C4_green, C4_red, C4_black)],
              (102, 137), 1030, 1182, 1019, 1058)
draw_table(194, [281, 473, 678, 879], [1275, 1340, 1405, 1471, 1535, 1600, 1667, 1730], [1501, 1698], (0, 987),
           AGONISTS[2], C_small, C_medium, C_large)

# ---- D ----
draw_quadrant('D', 1125, 936, [(1270, 1438), (1468, 1640), (1682, 1850), (1880, 2048)], 955, 1105,
              [(D1_blue, D1_green, D1_red, D1_black), (D2_blue, D2_green, D2_red, D2_black),
               (D3_blue, D3_green, D3_red, D3_black), (D4_blue, D4_green, D4_red, D4_black)],
              (1180, 1215), 1037, 1163, 2107, 1048, dark_last_top=True)
draw_table(1251, [1363, 1569, 1765, 1970], [1265, 1332, 1397, 1465, 1532, 1598, 1663, 1730], [1497, 1695],
           (1091, 2081), AGONISTS[3], D_small, D_medium, D_large)

fig.savefig('out.png', dpi=100, facecolor='white')
